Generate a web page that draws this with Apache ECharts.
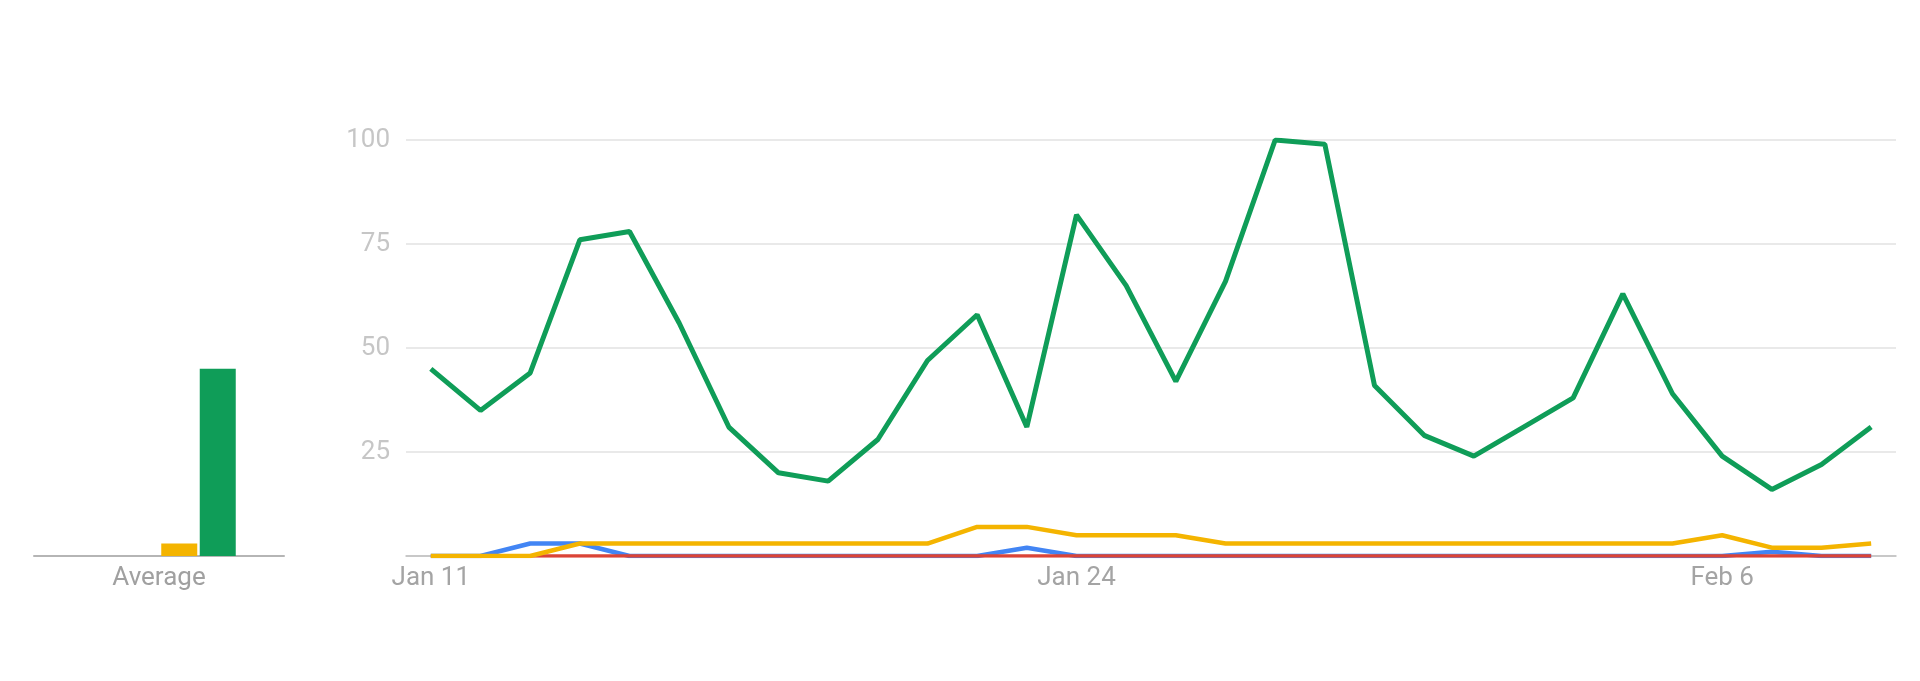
<!DOCTYPE html>
<html>
<head>
<meta charset="utf-8">
<script src="https://cdn.jsdelivr.net/npm/echarts@6/dist/echarts.min.js"></script>
<style>
html,body{margin:0;padding:0;background:#fff;}
#chart{width:1920px;height:681px;}
</style>
</head>
<body>
<div id="chart"></div>
<script>
const dates = ["Jan 11","Jan 12","Jan 13","Jan 14","Jan 15","Jan 16","Jan 17","Jan 18","Jan 19","Jan 20",
  "Jan 21","Jan 22","Jan 23","Jan 24","Jan 25","Jan 26","Jan 27","Jan 28","Jan 29","Jan 30",
  "Jan 31","Feb 1","Feb 2","Feb 3","Feb 4","Feb 5","Feb 6","Feb 7","Feb 8","Feb 9"];
const blueValues   = [0,0,3,3,0,0,0,0,0,0, 0,0,2,0,0,0,0,0,0,0, 0,0,0,0,0,0,0,1,0,0];
const redValues    = [0,0,0,0,0,0,0,0,0,0, 0,0,0,0,0,0,0,0,0,0, 0,0,0,0,0,0,0,0,0,0];
const yellowValues = [0,0,0,3,3,3,3,3,3,3, 3,7,7,5,5,5,3,3,3,3, 3,3,3,3,3,3,5,2,2,3];
const greenValues  = [45,35,44,76,78,56,31,20,18,28, 47,58,31,82,65,42,66,100,99,41, 29,24,31,38,63,39,24,16,22,31];
const averageCategory = ["Average"];
const averageSeriesNames = ["blue","red","yellow","green"];
const averageValues = [0, 0, 3, 45];
const yTickLabels = ["25","50","75","100"];

const colors = { blue: "#4285F4", red: "#DB4437", yellow: "#F4B400", green: "#0F9D58" };
const font = "Roboto";

const chart = echarts.init(document.getElementById('chart'), null, {renderer: 'canvas'});
chart.setOption({
  animation: false,
  backgroundColor: '#ffffff',
  grid: [
    { left: 34, width: 250, top: 140, bottom: 125 },
    { left: 406, right: 24, top: 140, bottom: 125 },
    { left: 83, width: 154, top: 140, bottom: 125 }
  ],
  xAxis: [
    { gridIndex: 0, type: 'category', data: averageCategory,
      axisLine: { show: true, lineStyle: { color: '#b5b5b5', width: 2 } },
      axisTick: { show: false },
      axisLabel: { color: '#a0a0a0', fontFamily: font, fontSize: 26, margin: 9 } },
    { gridIndex: 1, type: 'category', data: dates, boundaryGap: true,
      axisLine: { show: true, lineStyle: { color: '#bdbdbd', width: 1.5 } },
      axisTick: { show: false },
      axisLabel: { color: '#a4a4a4', fontFamily: font, fontSize: 26, margin: 9, interval: 12 } },
    { gridIndex: 2, type: 'category', data: averageSeriesNames, show: false }
  ],
  yAxis: [
    { gridIndex: 0, type: 'value', min: 0, max: 100, interval: 25, show: false },
    { gridIndex: 1, type: 'value', min: 0, max: 100, interval: 25,
      axisLine: { show: false }, axisTick: { show: false },
      splitLine: { show: true, lineStyle: { color: '#e9e9e9', width: 2 } },
      axisLabel: { color: '#c6c6c6', fontFamily: font, fontSize: 26, margin: 16,
        formatter: function (v) { const s = String(v); return yTickLabels.indexOf(s) >= 0 ? s : ''; } } },
    { gridIndex: 2, type: 'value', min: 0, max: 100, show: false }
  ],
  series: [
    { type: 'bar', xAxisIndex: 2, yAxisIndex: 2, barWidth: 36,
      data: averageValues.map(function (v, i) { return { value: v, itemStyle: { color: colors[averageSeriesNames[i]] } }; }) },
    { type: 'line', xAxisIndex: 1, yAxisIndex: 1, data: blueValues, symbol: 'none', lineStyle: { color: colors.blue, width: 4.5 } },
    { type: 'line', xAxisIndex: 1, yAxisIndex: 1, data: redValues, symbol: 'none', lineStyle: { color: colors.red, width: 3.5 } },
    { type: 'line', xAxisIndex: 1, yAxisIndex: 1, data: yellowValues, symbol: 'none', lineStyle: { color: colors.yellow, width: 4.5 } },
    { type: 'line', xAxisIndex: 1, yAxisIndex: 1, data: greenValues, symbol: 'none', lineStyle: { color: colors.green, width: 5 } }
  ]
});
</script>
</body>
</html>
